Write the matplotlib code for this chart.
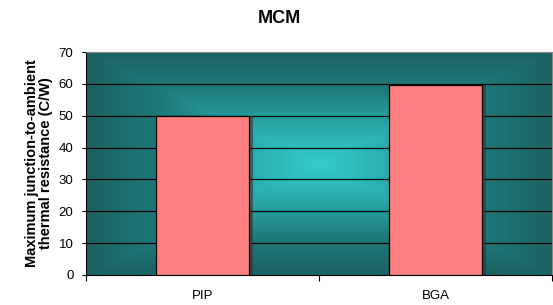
import numpy as np
import matplotlib.pyplot as plt
from matplotlib.colors import LinearSegmentedColormap

plt.rcParams['font.family'] = ['Liberation Sans', 'DejaVu Sans']

categories = ['PIP', 'BGA']
values = [49.8, 59.5]
y_ticks = [0, 10, 20, 30, 40, 50, 60, 70]

fig = plt.figure(figsize=(5.53, 3.05), dpi=100)
ax = fig.add_axes([0.1555, 0.0984, 0.8427, 0.731])

# rektangulär gradient från mitten (Excel-stil)
nx, ny = 400, 200
gx, gy = np.meshgrid(np.linspace(-1, 1, nx), np.linspace(-1, 1, ny))
t = np.maximum(np.abs(gx), np.abs(gy))
cmap = LinearSegmentedColormap.from_list('bg', ['#33CCCC', '#2AA8A8', '#1E7B7B', '#1A6262'])
ax.imshow(t, cmap=cmap, extent=[0, 1, 0, 1], transform=ax.transAxes,
          aspect='auto', zorder=0, interpolation='bilinear', vmin=0, vmax=1)

x = np.arange(len(categories))
ax.bar(x + 0.015, values, width=0.40, color='#333333', alpha=0.6, zorder=2)
ax.bar(x, values, width=0.40, color='#FF8080', edgecolor='black', linewidth=0.9, zorder=3)

for yv in y_ticks[1:-1]:
    ax.axhline(yv, color='black', linewidth=0.9, zorder=1)

ax.set_xlim(-0.5, 1.5)
ax.set_ylim(0, 70)
ax.set_yticks(y_ticks)
ax.set_xticks(x)
ax.set_xticklabels(categories)
ax.set_xticks([-0.5, 0.5, 1.5], minor=True)
ax.tick_params(axis='x', which='major', length=0, labelsize=9.5, pad=11)
ax.tick_params(axis='x', which='minor', length=4, width=0.8, color='black')
ax.tick_params(axis='y', length=3, width=0.8, labelsize=9.5, pad=6)

for s in ['top', 'right']:
    ax.spines[s].set_color('#888888')
    ax.spines[s].set_linewidth(0.8)
for s in ['left', 'bottom']:
    ax.spines[s].set_color('black')
    ax.spines[s].set_linewidth(0.8)

ax.set_ylabel('Maximum junction-to-ambient\nthermal resistance (C/W)', fontsize=10.5,
              fontweight='bold', labelpad=4, linespacing=1.05)
fig.text(0.506, 0.938, 'MCM', ha='center', va='center', fontsize=13, fontweight='bold')

plt.savefig('out.png', dpi=100)
